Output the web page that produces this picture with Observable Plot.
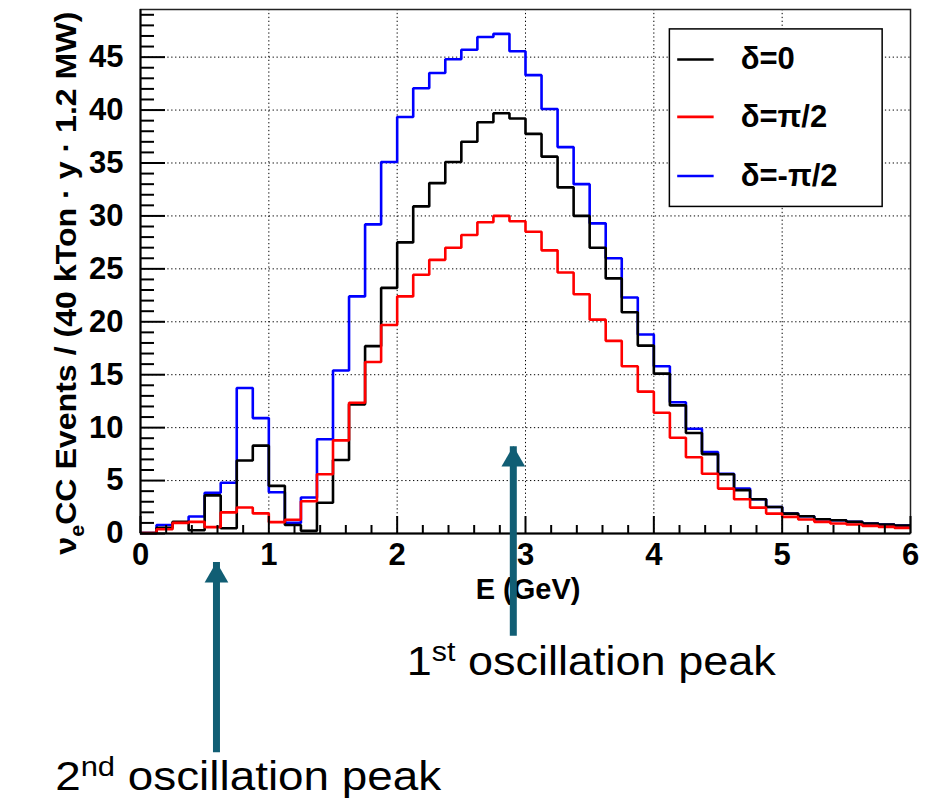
<!DOCTYPE html>
<html><head><meta charset="utf-8">
<script src="https://cdn.jsdelivr.net/npm/d3@7"></script>
<script src="https://cdn.jsdelivr.net/npm/@observablehq/plot@0.6"></script>
<style>
body{margin:0;background:#fff;}
#chart{width:934px;height:804px;}
</style></head><body><div id="chart"></div>
<script>
// ---- data ----
const binWidth = 0.125;
const binLow = d3.range(48).map(i => i * binWidth); // bin lower edges, 0 .. 5.875 GeV
const deltaZero = [0.05,0.55,1.1,0.3,3.6,0.5,6.9,8.3,4.5,0.8,0.25,2.9,6.95,12.2,17.7,23.2,27.5,30.9,33.1,35.1,37.0,38.85,39.7,39.2,37.75,35.6,32.7,30.0,27.0,24.1,20.9,17.75,15.1,12.1,9.5,7.5,5.6,4.1,3.23,2.5,1.88,1.63,1.35,1.25,1.1,0.94,0.85,0.75];
const deltaPiHalf = [0.05,0.4,1.0,1.1,0.6,2.0,2.45,1.9,1.07,1.3,3.05,5.6,8.8,12.35,16.2,19.7,22.4,24.45,25.85,27.0,28.2,29.4,30.0,29.5,28.5,26.75,24.65,22.6,20.2,18.2,15.8,13.4,11.4,9.05,7.2,5.65,4.24,3.23,2.44,1.88,1.57,1.32,1.1,0.94,0.85,0.72,0.63,0.53];
const deltaMinusPiHalf = [0.05,0.8,1.05,1.6,3.85,4.8,13.75,10.9,3.9,1.0,3.4,8.9,15.4,22.4,29.2,35.1,39.35,42.06,43.5,44.8,45.7,46.9,47.2,45.55,43.3,40.1,36.5,33.0,29.3,26.0,22.3,18.8,15.8,12.4,9.9,7.7,5.65,4.24,3.23,2.5,1.88,1.63,1.35,1.25,1.1,0.94,0.85,0.75];

const seriesLabels = ["δ=0", "δ=π/2", "δ=-π/2"];
const seriesColors = ["#000000", "#ff0000", "#0000ff"];

const xTickLabels = [0, 1, 2, 3, 4, 5, 6];
const yTickLabels = [0, 5, 10, 15, 20, 25, 30, 35, 40, 45];
const xMinorTicks = d3.range(0, 6.001, 0.2).filter(v => Math.abs(v - Math.round(v)) > 1e-6);
const yMinorTicks = d3.range(0, 50, 1).filter(v => v % 5 !== 0);

const xTitle = "E (GeV)";
const yTitle = "νeCC Events / (40 kTon · y · 1.2 MW)";

// legend placement (in data units)
const legendBox = {x1: 4.125, x2: 5.783, y1: 30.85, y2: 47.62};
const legendRowY = [44.77, 39.36, 33.77];
const legendLineX = [4.186, 4.47];
const legendTextX = 4.677;

// annotations (in data units; below the axis)
const annoLabels = ["1st oscillation peak", "2nd oscillation peak"];
const annoTextX = [2.075, -0.665];
const annoTextY = [-13.36, -24.2];
const annoWidth = [369, 386];
const arrowX = [2.905, 0.592];
const arrowTip = [8.2, -2.75];
const arrowTail = [-8.2, -19.2];
const teal = "#115e74";

// ---- build ----
const W = 934, H = 804, mL = 140, mR = 24, mT = 9, mB = 271;
const fw = W - mL - mR, fh = H - mT - mB;
const xMax = 6;

function steps(values) {
  const pts = values.map((v, i) => ({x: binLow[i], y: v}));
  pts.push({x: xMax, y: values[values.length - 1]});
  return pts;
}
const font = "'Liberation Sans', Arial, Helvetica, sans-serif";
const histOpts = {x: "x", y: "y", curve: "step-after", strokeWidth: 2.6, strokeLinejoin: "miter", strokeLinecap: "butt"};

const chart = Plot.plot({
  width: W, height: H,
  marginLeft: mL, marginRight: mR, marginTop: mT, marginBottom: mB,
  x: {domain: [0, xMax], axis: null},
  y: {domain: [0, 49.5], axis: null},
  style: {fontFamily: font, background: "white", color: "black", overflow: "visible"},
  marks: [
    // grid
    Plot.ruleX(xTickLabels.slice(1, -1), {x: d => d, stroke: "#000", strokeWidth: 1, strokeDasharray: "1.3,2.6"}),
    Plot.ruleY(yTickLabels.slice(1), {y: d => d, stroke: "#000", strokeWidth: 1, strokeDasharray: "1.3,2.6"}),
    // histograms (blue, black, red drawing order)
    Plot.line(steps(deltaMinusPiHalf), {...histOpts, stroke: seriesColors[2]}),
    Plot.line(steps(deltaZero), {...histOpts, stroke: seriesColors[0]}),
    Plot.line(steps(deltaPiHalf), {...histOpts, stroke: seriesColors[1]}),
    // legend
    Plot.rect([0], {x1: legendBox.x1, x2: legendBox.x2, y1: legendBox.y1, y2: legendBox.y2, fill: "white", stroke: "#000", strokeWidth: 1.5}),
    ...seriesLabels.map((lab, i) => Plot.ruleY([legendRowY[i]], {y: d => d, x1: legendLineX[0], x2: legendLineX[1], stroke: seriesColors[i], strokeWidth: 2.6})),
    Plot.text(seriesLabels, {x: legendTextX, y: (d, i) => legendRowY[i], text: d => d, textAnchor: "start", lineAnchor: "middle", fontSize: 31, fontWeight: "bold", fill: "#000"}),
    // frame and axes
    Plot.frame({stroke: "#222", strokeWidth: 1.5}),
    Plot.ruleX([0], {x: d => d, stroke: "#000", strokeWidth: 2}),
    Plot.ruleY([0], {y: d => d, stroke: "#000", strokeWidth: 2}),
    Plot.ruleX(xTickLabels, {x: d => d, insetTop: fh - 17, stroke: "#000", strokeWidth: 2}),
    Plot.ruleX(xMinorTicks, {x: d => d, insetTop: fh - 8, stroke: "#000", strokeWidth: 2}),
    Plot.ruleY(yTickLabels, {y: d => d, insetRight: fw - 25, stroke: "#000", strokeWidth: 2}),
    Plot.ruleY(yMinorTicks, {y: d => d, insetRight: fw - 14, stroke: "#000", strokeWidth: 2}),
    // tick labels
    Plot.text(xTickLabels, {x: d => d, y: 0, text: d => String(d), dy: 31, lineAnchor: "bottom", textAnchor: "middle", fontSize: 31, fontWeight: "bold", fill: "#000"}),
    Plot.text(yTickLabels, {x: 0, y: d => d, text: d => String(d), dx: -17, lineAnchor: "middle", textAnchor: "end", fontSize: 31, fontWeight: "bold", fill: "#000"}),
    // axis titles
    Plot.text([xTitle], {x: 3.02, y: -6.2, text: d => d, lineAnchor: "bottom", textAnchor: "middle", fontSize: 29, fontWeight: "bold", fill: "#000"}),
    Plot.text([yTitle], {x: -0.58, y: 23.65, text: d => d, rotate: -90, lineAnchor: "middle", textAnchor: "middle", fontSize: 30, fontWeight: "bold", fill: "#000"}),
    // annotation arrows
    Plot.ruleX(arrowX, {x: d => d, y1: (d, i) => arrowTail[i], y2: (d, i) => arrowTip[i], insetTop: 16, stroke: teal, strokeWidth: 7}),
    Plot.dot(arrowX, {x: d => d, y: (d, i) => arrowTip[i], dy: 13, symbol: "triangle", r: 8.8, fill: teal, stroke: "none"}),
    Plot.text(annoLabels, {x: (d, i) => annoTextX[i], y: (d, i) => annoTextY[i], text: d => d, lineAnchor: "bottom", textAnchor: "start", fontSize: 40, fill: "#000"})
  ]
});
document.getElementById("chart").appendChild(chart);

// rich-text touches: subscript / superscripts, stretched text
const NS = "http://www.w3.org/2000/svg";
function rich(el, parts) {
  el.textContent = "";
  for (const p of parts) {
    const ts = document.createElementNS(NS, "tspan");
    ts.textContent = p.t;
    if (p.size) ts.setAttribute("font-size", p.size);
    if (p.dy) ts.setAttribute("dy", p.dy);
    el.appendChild(ts);
  }
}
chart.querySelectorAll("text").forEach(t => {
  const s = t.textContent;
  if (s === yTitle) {
    rich(t, [{t: "ν"}, {t: "e", size: 20, dy: 8}, {t: "CC Events / (40 kTon · y · 1.2 MW)", size: 30, dy: -8}]);
    t.setAttribute("textLength", 543);
    t.setAttribute("lengthAdjust", "spacingAndGlyphs");
  } else {
    const k = annoLabels.indexOf(s);
    if (k >= 0) {
      rich(t, [{t: s.slice(0, 1)}, {t: s.slice(1, 3), size: 27, dy: -14}, {t: s.slice(3), size: 40, dy: 14}]);
      t.setAttribute("textLength", annoWidth[k]);
      t.setAttribute("lengthAdjust", "spacingAndGlyphs");
    }
  }
});
</script>
</body></html>
